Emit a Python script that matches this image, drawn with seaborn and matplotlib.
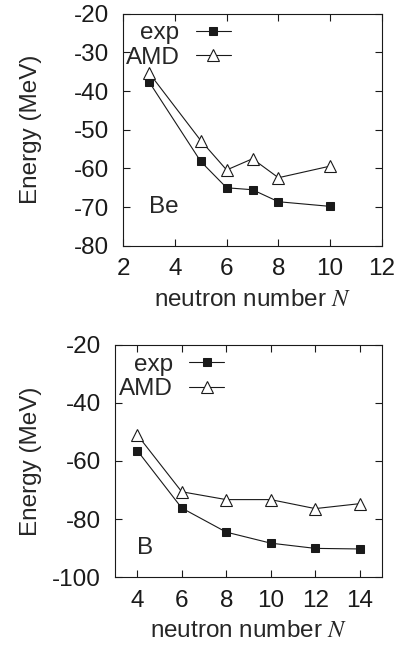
import numpy as np
import matplotlib
matplotlib.use('Agg')
from matplotlib import pyplot as plt
import seaborn as sns

# Be isotopes
be_n_exp = [3, 5, 6, 7, 8, 10]
be_exp = [-37.6, -58.2, -65.0, -65.5, -68.6, -69.8]
be_n_amd = [3, 5, 6, 7, 8, 10]
be_amd = [-35.3, -52.8, -60.4, -57.5, -62.4, -59.4]

# B isotopes
b_n_exp = [4, 6, 8, 10, 12, 14]
b_exp = [-56.4, -76.2, -84.5, -88.3, -90.1, -90.3]
b_n_amd = [4, 6, 8, 10, 12, 14]
b_amd = [-51.0, -70.6, -73.3, -73.3, -76.4, -74.7]

sns.set_theme(style='ticks')
plt.rcParams['font.family'] = ['Liberation Sans', 'DejaVu Sans']
plt.rcParams['mathtext.fontset'] = 'stix'
plt.rcParams['axes.unicode_minus'] = False
plt.rcParams['axes.linewidth'] = 0.8
fs = 17.5

fig = plt.figure(figsize=(4.05, 6.47), dpi=100)
ax1 = fig.add_axes([0.304, 0.620, 0.639, 0.359])
ax2 = fig.add_axes([0.284, 0.108, 0.659, 0.359])


def draw(ax, nx, ye, na, ya):
    sns.lineplot(x=nx, y=ye, ax=ax, color='k', lw=0.8, marker='s', markersize=6,
                 markerfacecolor='k', markeredgecolor='k', label='exp')
    sns.lineplot(x=na, y=ya, ax=ax, color='k', lw=0.8, marker='^', markersize=8.5,
                 markerfacecolor='white', markeredgecolor='k', markeredgewidth=0.8,
                 label='AMD')
    ax.tick_params(direction='in', length=5, width=0.8, top=True, right=True,
                   labelsize=fs, colors='k')
    ax.tick_params(axis='x', pad=9)
    ax.tick_params(axis='y', pad=10)
    for s in ax.spines.values():
        s.set_color('k')
    ax.set_xlabel('neutron number $N$', fontsize=fs, labelpad=6)
    ax.set_ylabel('Energy (MeV)', fontsize=fs)


def legend(ax, x):
    ax.legend(loc='upper right', bbox_to_anchor=(x, 0.962), frameon=False,
              markerfirst=False, handlelength=1.45, handletextpad=0.67,
              labelspacing=0.1, borderpad=0, borderaxespad=0, numpoints=1,
              fontsize=fs)


draw(ax1, be_n_exp, be_exp, be_n_amd, be_amd)
ax1.set_xlim(2, 12)
ax1.set_ylim(-80, -20)
ax1.set_xticks(np.arange(2, 13, 2))
ax1.set_yticks(np.arange(-80, -19, 10))
ax1.text(3, -70, 'Be', fontsize=fs, ha='left', va='center')
ax1.yaxis.set_label_coords(-0.313, 0.5)
legend(ax1, 0.417)

draw(ax2, b_n_exp, b_exp, b_n_amd, b_amd)
ax2.set_xlim(3, 15)
ax2.set_ylim(-100, -20)
ax2.set_xticks(np.arange(4, 15, 2))
ax2.set_yticks(np.arange(-100, -19, 20))
ax2.text(4, -90, 'B', fontsize=fs, ha='left', va='center')
ax2.yaxis.set_label_coords(-0.273, 0.5)
legend(ax2, 0.41)

fig.savefig('out.png', dpi=100)
